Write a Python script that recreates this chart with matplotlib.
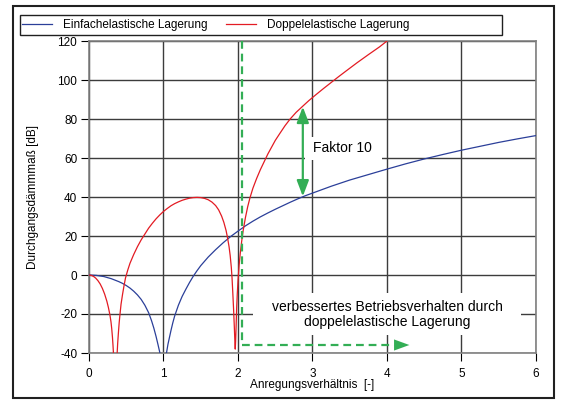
import numpy as np
import matplotlib
matplotlib.use("Agg")
import matplotlib.pyplot as plt
from matplotlib.patches import Rectangle

plt.rcParams['font.family'] = ['Liberation Sans', 'DejaVu Sans']
plt.rcParams['axes.unicode_minus'] = False

# ---- data ----
blue_x = [0, 0.1, 0.2, 0.3, 0.4, 0.45, 0.5, 0.55, 0.6, 0.65, 0.7, 0.75, 0.8, 0.84,
          0.87, 0.9, 0.925, 0.952,
          np.nan,
          1.04, 1.06, 1.08, 1.1, 1.125, 1.15, 1.2, 1.25, 1.3, 1.35, 1.4, 1.45, 1.5,
          1.6, 1.7, 1.8, 1.9, 2.0, 2.1, 2.2, 2.3, 2.4, 2.5, 2.6, 2.7, 2.8, 2.9, 3.0,
          3.25, 3.5, 3.75, 4.0, 4.25, 4.5, 4.75, 5.0, 5.25, 5.5, 5.75, 6.0]
blue_y = [0, -0.2, -0.8, -1.9, -3.4, -4.3, -5.4, -6.7, -8.3, -10.2, -12.5, -15.5, -19.3,
          -23.5, -27.2, -31.5, -35.5, -40,
          np.nan,
          -40, -35.5, -32.0, -28.5, -24.5, -21.0, -15.5, -11.0, -7.3, -3.8, -0.6, 2.2, 4.8,
          9.2, 13.0, 16.5, 19.7, 22.5, 25.2, 27.6, 29.8, 31.8, 33.7, 35.5, 37.3, 39.0, 40.6,
          42.0, 45.5, 48.7, 51.5, 54.3, 57.0, 59.5, 61.8, 64.0, 66.0, 68.0, 69.8, 71.5]

red_x = [0, 0.03, 0.06, 0.09, 0.12, 0.15, 0.18, 0.21, 0.24, 0.26, 0.28, 0.295, 0.305,
         0.315, 0.322, 0.328,
         np.nan,
         0.378, 0.385, 0.395, 0.405, 0.415, 0.43, 0.45, 0.47, 0.49, 0.52, 0.55, 0.6, 0.65,
         0.7, 0.75, 0.8, 0.85, 0.9, 0.95, 1.0, 1.05, 1.1, 1.15, 1.2, 1.25, 1.3, 1.35, 1.4,
         1.45, 1.5, 1.55, 1.6, 1.65, 1.7, 1.74, 1.78, 1.81, 1.84, 1.86, 1.88, 1.895, 1.91,
         1.92, 1.93, 1.94, 1.95, 1.958, 1.963, 1.968, 1.975, 1.982, 1.99, 2.0, 2.015, 2.03,
         2.05, 2.07, 2.1, 2.13, 2.16, 2.2, 2.25, 2.3, 2.35, 2.4, 2.45, 2.5, 2.56, 2.63,
         2.7, 2.78, 2.87, 2.95, 3.05, 3.15, 3.25, 3.35, 3.45, 3.6, 3.75, 3.9, 4.0]
red_y = [0, -0.2, -0.7, -1.6, -2.9, -4.6, -6.9, -9.8, -13.5, -16.6, -20.3, -24.0, -27.5,
         -32.0, -36.0, -40,
         np.nan,
         -40, -35.0, -29.5, -24.5, -20.5, -15.0, -10.0, -5.5, -1.5, 2.5, 6.0, 10.5, 14.5,
         18.0, 21.0, 24.0, 26.5, 28.8, 30.8, 32.6, 34.1, 35.5, 36.6, 37.5, 38.3, 38.9, 39.4,
         39.7, 39.8, 39.7, 39.3, 38.6, 37.4, 35.6, 33.4, 30.2, 27.0, 22.8, 19.0, 14.5, 10.0,
         4.0, -1.5, -9.0, -17.0, -26.0, -34.0, -38.0, -34.0, -26.0, -17.0, -10.0, -3.0, 5.0,
         11.0, 17.5, 23.0, 29.5, 35.0, 39.5, 44.5, 49.5, 54.0, 58.0, 62.0, 65.5, 69.0, 72.5,
         76.5, 80.0, 83.4, 86.6, 89.4, 92.6, 95.7, 98.7, 101.7, 104.6, 108.9, 113.0, 117.0,
         120.0]

x_ticks = [0, 1, 2, 3, 4, 5, 6]
y_ticks = [-40, -20, 0, 20, 40, 60, 80, 100, 120]

labels = ["Einfachelastische Lagerung", "Doppelelastische Lagerung"]
factor_x = 2.87
factor_low, factor_high = 40.3, 86.3
boundary_x = 2.06
boundary_y = -35.9
arrow_end_x = 4.3

BLUE = '#2b3f99'
RED = '#e31b23'
GREEN = '#33ae55'
GRID = '#3c3c3c'

W, H = 561, 401
fig = plt.figure(figsize=(W / 100, H / 100), dpi=100)
ax = fig.add_axes([89 / W, 1 - 353 / H, (536 - 89) / W, (353 - 41) / H])

ax.set_xlim(0, 6)
ax.set_ylim(-40, 120)
ax.set_xticks(x_ticks)
ax.set_yticks(y_ticks)
ax.grid(True, color=GRID, lw=1.0, zorder=0)
ax.set_axisbelow(True)
for s in ax.spines.values():
    s.set_color('#808080')
    s.set_linewidth(1.2)
ax.tick_params(direction='out', length=6, width=0.8, color='black',
               labelsize=8.5, pad=2.5)
ax.tick_params(axis='x', pad=4.5)

# white boxes behind annotations
ax.add_patch(Rectangle((2.198, -30.8), 5.80 - 2.198, 21.6, facecolor='white',
                       edgecolor='none', zorder=1.5))
ax.add_patch(Rectangle((2.895, 59.0), 3.928 - 2.895, 11.8, facecolor='white',
                       edgecolor='none', zorder=1.5))

l1, = ax.plot(blue_x, blue_y, color=BLUE, lw=0.9, zorder=3, label=labels[0])
l2, = ax.plot(red_x, red_y, color=RED, lw=0.9, zorder=3, label=labels[1])

# green dashed boundary + arrow
ax.plot([boundary_x, boundary_x], [120, boundary_y], color=GREEN, lw=1.6,
        dashes=(3.5, 2.2), zorder=4, clip_on=False)
ax.plot([boundary_x, 4.1], [boundary_y, boundary_y], color=GREEN, lw=1.6,
        dashes=(3.5, 2.2), zorder=4)
ax.annotate('', xy=(arrow_end_x, boundary_y), xytext=(4.05, boundary_y),
            arrowprops=dict(arrowstyle='-|>,head_length=1.1,head_width=0.4',
                            mutation_scale=10, color=GREEN, lw=0.01,
                            shrinkA=0, shrinkB=0), zorder=4)

# factor 10 double arrow
ax.annotate('', xy=(factor_x, factor_high), xytext=(factor_x, factor_low),
            arrowprops=dict(arrowstyle='<|-|>,head_length=0.95,head_width=0.36',
                            mutation_scale=10, color=GREEN, lw=1.6,
                            shrinkA=0, shrinkB=0), zorder=5)

ax.text(3.40, 65.0, "Faktor 10", fontsize=10, ha='center', va='center', zorder=6)
ax.text(4.0, -20.3, "verbessertes Betriebsverhalten durch\ndoppelelastische Lagerung",
        fontsize=10, ha='center', va='center', linespacing=1.1, zorder=6)

ax.set_xlabel("Anregungsverhältnis  [-]", fontsize=8.5)
ax.set_ylabel("Durchgangsdämmmaß [dB]", fontsize=8.5)
ax.xaxis.set_label_coords(0.5, -0.082)
ax.yaxis.set_label_coords(-0.112, 0.5)

# legend
fig.legend(handles=[l1, l2], labels=labels, loc='center left',
           bbox_to_anchor=(22 / W, 1 - 25 / H), ncol=2, frameon=False,
           fontsize=8.5, borderpad=0, borderaxespad=0, handlelength=2.5,
           handletextpad=0.95, columnspacing=1.6)
fig.add_artist(Rectangle((20 / W, 1 - 35 / H), (502 - 20) / W, 20 / H,
                         transform=fig.transFigure, fill=False,
                         edgecolor='#202020', lw=1.0))
# outer frame
fig.add_artist(Rectangle((13 / W, 1 - 398 / H), (554 - 13) / W, (398 - 6) / H,
                         transform=fig.transFigure, fill=False,
                         edgecolor='#202020', lw=1.5))

fig.savefig("out.png", dpi=100)
